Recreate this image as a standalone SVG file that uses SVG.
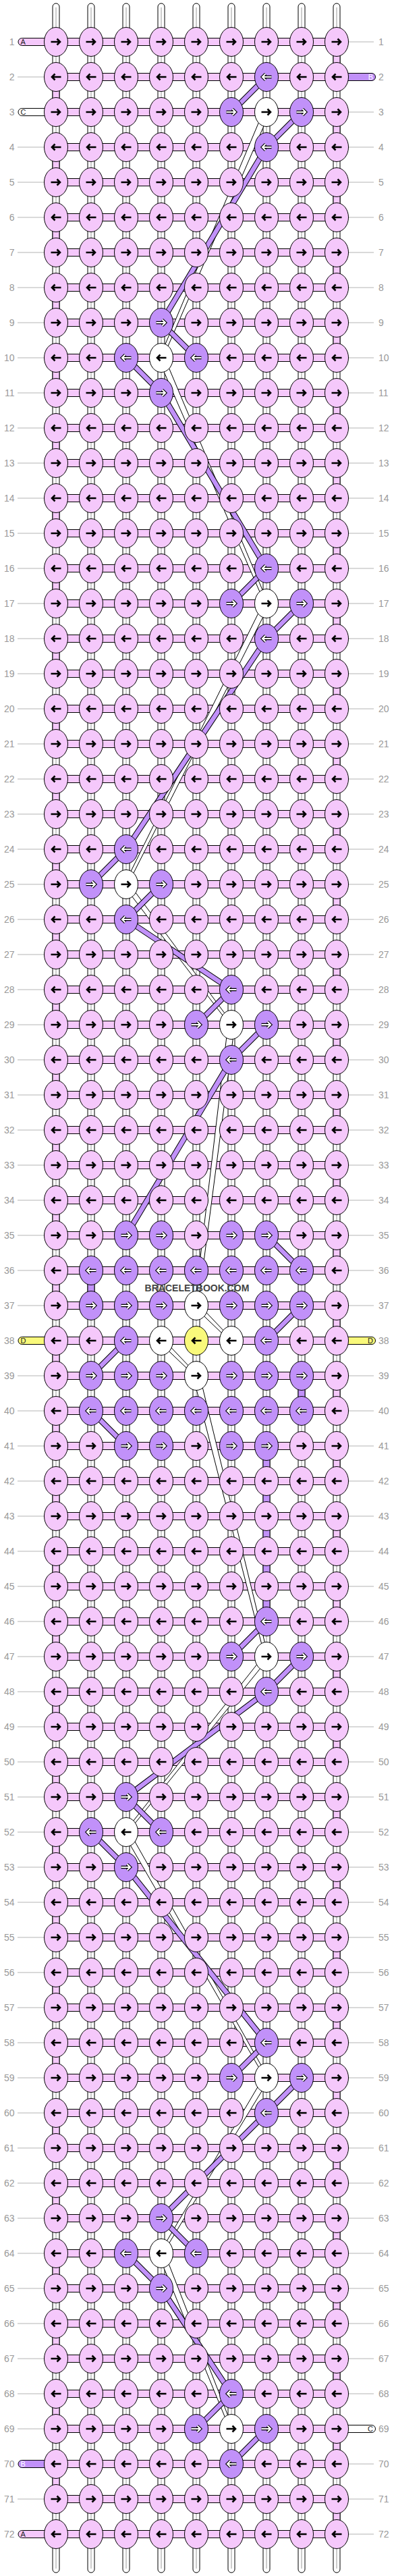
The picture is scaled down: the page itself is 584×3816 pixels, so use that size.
<svg xmlns="http://www.w3.org/2000/svg" xmlns:xlink="http://www.w3.org/1999/xlink" width="584" height="3816" viewBox="0 0 584 3816">
<style>
.s{fill:#fff;stroke:#000;stroke-width:1}
.c{stroke:#9a9a9a;stroke-width:1;fill:none}
.pk{fill:#F5C8FB;stroke:#000;stroke-width:1}
.pu{fill:#C191F9;stroke:#000;stroke-width:1}
.ye{fill:#F9F97B;stroke:#000;stroke-width:1}
.wh{fill:#fff;stroke:#000;stroke-width:1}
.gl{stroke:#b4b4b4;stroke-width:1;fill:none}
.n{font-family:"Liberation Sans",Arial,sans-serif;font-size:14px;fill:#999}
.sl{font-family:"Liberation Sans",Arial,sans-serif;font-size:11px;fill:#222}
.pb{fill:none;stroke:#000;stroke-width:8.5}
.pf{fill:none;stroke:#C191F9;stroke-width:6.5}
.wb{fill:#fff;stroke:#000;stroke-width:1}
.ab{stroke:#000;stroke-width:2.6;fill:none}
.ao{stroke:#000;stroke-width:4.4;fill:none}
.aw{stroke:#fff;stroke-width:2.2;fill:none}
.wm{font-family:"Liberation Sans",Arial,sans-serif;font-size:14px;font-weight:bold;fill:#444}
</style>
<defs>
<path id="ar" fill="none" d="M-7.5,0H5.5M1.5,-4.5L6,0L1.5,4.5"/>
<path id="al" fill="none" d="M7.5,0H-5.5M-1.5,-4.5L-6,0L-1.5,4.5"/>
<path id="pt" fill="none" d="M395,114L343,166M447,166L395,218M395,218L239,478M239,478L291,530M187,530L239,582M239,582L395,842M395,842L343,894M447,894L395,946M395,946L187,1258M187,1258L135,1310M239,1310L187,1362M187,1362L343,1466M343,1466L291,1518M395,1518L343,1570M343,1570L187,1830M395,1830L447,1882M447,1934L395,1986M187,1986L135,2038M135,2090L187,2142M395,2402L343,2454M447,2454L395,2506M395,2506L187,2662M187,2662L239,2714M135,2714L187,2766M187,2766L395,3026M395,3026L343,3078M447,3078L395,3130M395,3130L239,3286M239,3286L291,3338M187,3338L239,3390M239,3390L343,3546M343,3546L291,3598M395,3598L343,3650"/>
<g id="PR"><ellipse class="pk" rx="17.5" ry="21.5"/><use href="#ar" class="ab"/></g>
<g id="PL"><ellipse class="pk" rx="17.5" ry="21.5"/><use href="#al" class="ab"/></g>
<g id="WR"><ellipse class="wh" rx="17.5" ry="21.5"/><use href="#ar" class="ab"/></g>
<g id="WL"><ellipse class="wh" rx="17.5" ry="21.5"/><use href="#al" class="ab"/></g>
<g id="YL"><ellipse class="ye" rx="17.5" ry="21.5"/><use href="#al" class="ab"/></g>
<g id="VR"><ellipse class="pu" rx="17.5" ry="21.5"/><use href="#ar" class="ao"/><use href="#ar" class="aw"/></g>
<g id="VL"><ellipse class="pu" rx="17.5" ry="21.5"/><use href="#al" class="ao"/><use href="#al" class="aw"/></g>
</defs>
<rect width="584" height="3816" fill="#fff"/>
<g id="connectors">
<g id="vertical-strings">
<rect class="s" x="78" y="5" width="10" height="3806" rx="5"/><rect class="s" x="130" y="5" width="10" height="3806" rx="5"/><rect class="s" x="182" y="5" width="10" height="3806" rx="5"/><rect class="s" x="234" y="5" width="10" height="3806" rx="5"/><rect class="s" x="286" y="5" width="10" height="3806" rx="5"/><rect class="s" x="338" y="5" width="10" height="3806" rx="5"/><rect class="s" x="390" y="5" width="10" height="3806" rx="5"/><rect class="s" x="442" y="5" width="10" height="3806" rx="5"/><rect class="s" x="494" y="5" width="10" height="3806" rx="5"/>
<path class="c" d="M83,11V3805M135,11V3805M187,11V3805M239,11V3805M291,11V3805M343,11V3805M395,11V3805M447,11V3805M499,11V3805"/>
</g>
<path id="edge-turns" class="pk" d="M494,62h10v52h-10zM494,166h10v52h-10zM494,270h10v52h-10zM494,374h10v52h-10zM494,478h10v52h-10zM494,582h10v52h-10zM494,686h10v52h-10zM494,790h10v52h-10zM494,894h10v52h-10zM494,998h10v52h-10zM494,1102h10v52h-10zM494,1206h10v52h-10zM494,1310h10v52h-10zM494,1414h10v52h-10zM494,1518h10v52h-10zM494,1622h10v52h-10zM494,1726h10v52h-10zM494,1830h10v52h-10zM494,1934h10v52h-10zM494,2038h10v52h-10zM494,2142h10v52h-10zM494,2246h10v52h-10zM494,2350h10v52h-10zM494,2454h10v52h-10zM494,2558h10v52h-10zM494,2662h10v52h-10zM494,2766h10v52h-10zM494,2870h10v52h-10zM494,2974h10v52h-10zM494,3078h10v52h-10zM494,3182h10v52h-10zM494,3286h10v52h-10zM494,3390h10v52h-10zM494,3494h10v52h-10zM494,3598h10v52h-10zM494,3702h10v52h-10zM78,114h10v52h-10zM78,218h10v52h-10zM78,322h10v52h-10zM78,426h10v52h-10zM78,530h10v52h-10zM78,634h10v52h-10zM78,738h10v52h-10zM78,842h10v52h-10zM78,946h10v52h-10zM78,1050h10v52h-10zM78,1154h10v52h-10zM78,1258h10v52h-10zM78,1362h10v52h-10zM78,1466h10v52h-10zM78,1570h10v52h-10zM78,1674h10v52h-10zM78,1778h10v52h-10zM78,1882h10v52h-10zM78,1986h10v52h-10zM78,2090h10v52h-10zM78,2194h10v52h-10zM78,2298h10v52h-10zM78,2402h10v52h-10zM78,2506h10v52h-10zM78,2610h10v52h-10zM78,2714h10v52h-10zM78,2818h10v52h-10zM78,2922h10v52h-10zM78,3026h10v52h-10zM78,3130h10v52h-10zM78,3234h10v52h-10zM78,3338h10v52h-10zM78,3442h10v52h-10zM78,3546h10v52h-10zM78,3650h10v52h-10z"/>
<path id="purple-drops" class="pu" d="M130,1882h10v52h-10zM442,2038h10v52h-10zM390,2142h10v260h-10z"/>
<path id="rows" class="pk" d="M83,56.5h416v11h-416zM83,108.5h416v11h-416zM83,160.5h416v11h-416zM83,212.5h416v11h-416zM83,264.5h416v11h-416zM83,316.5h416v11h-416zM83,368.5h416v11h-416zM83,420.5h416v11h-416zM83,472.5h416v11h-416zM83,524.5h416v11h-416zM83,576.5h416v11h-416zM83,628.5h416v11h-416zM83,680.5h416v11h-416zM83,732.5h416v11h-416zM83,784.5h416v11h-416zM83,836.5h416v11h-416zM83,888.5h416v11h-416zM83,940.5h416v11h-416zM83,992.5h416v11h-416zM83,1044.5h416v11h-416zM83,1096.5h416v11h-416zM83,1148.5h416v11h-416zM83,1200.5h416v11h-416zM83,1252.5h416v11h-416zM83,1304.5h416v11h-416zM83,1356.5h416v11h-416zM83,1408.5h416v11h-416zM83,1460.5h416v11h-416zM83,1512.5h416v11h-416zM83,1564.5h416v11h-416zM83,1616.5h416v11h-416zM83,1668.5h416v11h-416zM83,1720.5h416v11h-416zM83,1772.5h416v11h-416zM83,1824.5h416v11h-416zM83,1876.5h416v11h-416zM83,1928.5h416v11h-416zM83,1980.5h416v11h-416zM83,2032.5h416v11h-416zM83,2084.5h416v11h-416zM83,2136.5h416v11h-416zM83,2188.5h416v11h-416zM83,2240.5h416v11h-416zM83,2292.5h416v11h-416zM83,2344.5h416v11h-416zM83,2396.5h416v11h-416zM83,2448.5h416v11h-416zM83,2500.5h416v11h-416zM83,2552.5h416v11h-416zM83,2604.5h416v11h-416zM83,2656.5h416v11h-416zM83,2708.5h416v11h-416zM83,2760.5h416v11h-416zM83,2812.5h416v11h-416zM83,2864.5h416v11h-416zM83,2916.5h416v11h-416zM83,2968.5h416v11h-416zM83,3020.5h416v11h-416zM83,3072.5h416v11h-416zM83,3124.5h416v11h-416zM83,3176.5h416v11h-416zM83,3228.5h416v11h-416zM83,3280.5h416v11h-416zM83,3332.5h416v11h-416zM83,3384.5h416v11h-416zM83,3436.5h416v11h-416zM83,3488.5h416v11h-416zM83,3540.5h416v11h-416zM83,3592.5h416v11h-416zM83,3644.5h416v11h-416zM83,3696.5h416v11h-416zM83,3748.5h416v11h-416z"/>
<path id="label-lines" class="gl" d="M26,114H70M26,218H70M26,270H70M26,322H70M26,374H70M26,426H70M26,478H70M26,530H70M26,582H70M26,634H70M26,686H70M26,738H70M26,790H70M26,842H70M26,894H70M26,946H70M26,998H70M26,1050H70M26,1102H70M26,1154H70M26,1206H70M26,1258H70M26,1310H70M26,1362H70M26,1414H70M26,1466H70M26,1518H70M26,1570H70M26,1622H70M26,1674H70M26,1726H70M26,1778H70M26,1830H70M26,1882H70M26,1934H70M26,2038H70M26,2090H70M26,2142H70M26,2194H70M26,2246H70M26,2298H70M26,2350H70M26,2402H70M26,2454H70M26,2506H70M26,2558H70M26,2610H70M26,2662H70M26,2714H70M26,2766H70M26,2818H70M26,2870H70M26,2922H70M26,2974H70M26,3026H70M26,3078H70M26,3130H70M26,3182H70M26,3234H70M26,3286H70M26,3338H70M26,3390H70M26,3442H70M26,3494H70M26,3546H70M26,3598H70M26,3702H70M499,62H554M499,166H554M499,218H554M499,270H554M499,322H554M499,374H554M499,426H554M499,478H554M499,530H554M499,582H554M499,634H554M499,686H554M499,738H554M499,790H554M499,842H554M499,894H554M499,946H554M499,998H554M499,1050H554M499,1102H554M499,1154H554M499,1206H554M499,1258H554M499,1310H554M499,1362H554M499,1414H554M499,1466H554M499,1518H554M499,1570H554M499,1622H554M499,1674H554M499,1726H554M499,1778H554M499,1830H554M499,1882H554M499,1934H554M499,2038H554M499,2090H554M499,2142H554M499,2194H554M499,2246H554M499,2298H554M499,2350H554M499,2402H554M499,2454H554M499,2506H554M499,2558H554M499,2610H554M499,2662H554M499,2714H554M499,2766H554M499,2818H554M499,2870H554M499,2922H554M499,2974H554M499,3026H554M499,3078H554M499,3130H554M499,3182H554M499,3234H554M499,3286H554M499,3338H554M499,3390H554M499,3442H554M499,3494H554M499,3546H554M499,3650H554M499,3702H554M499,3754H554"/>
<g id="side-strands">
<rect class="pk" x="27" y="56.5" width="48" height="11" rx="5.5"/>
<rect class="wh" x="27" y="160.5" width="48" height="11" rx="5.5"/>
<rect class="ye" x="27" y="1980.5" width="48" height="11" rx="5.5"/>
<rect class="pu" x="27" y="3644.5" width="48" height="11" rx="5.5"/>
<rect class="pk" x="27" y="3748.5" width="48" height="11" rx="5.5"/>
<rect class="pu" x="492" y="108.5" width="64.5" height="11" rx="5.5"/>
<rect class="ye" x="492" y="1980.5" width="64.5" height="11" rx="5.5"/>
<rect class="wh" x="492" y="3592.5" width="64.5" height="11" rx="5.5"/>
<text class="sl" x="30.5" y="66">A</text>
<text class="sl" x="30.5" y="170">C</text>
<text class="sl" x="30.5" y="1990">D</text>
<text class="sl" x="30.5" y="3654" style="fill:#fff">B</text>
<text class="sl" x="30.5" y="3758">A</text>
<text class="sl" x="553" y="118" text-anchor="end" style="fill:#fff">B</text>
<text class="sl" x="553" y="1990" text-anchor="end">D</text>
<text class="sl" x="553" y="3602" text-anchor="end">C</text>
</g>
<g id="white-thread">
<polygon class="wb" points="390,166 400,166 241.5,530 236.5,530"/>
<polygon class="wb" points="234,530 244,530 397.5,894 392.5,894"/>
<polygon class="wb" points="390,894 400,894 189.5,1310 184.5,1310"/>
<polygon class="wb" points="182,1310 192,1310 345.5,1518 340.5,1518"/>
<polygon class="wb" points="338,1518 348,1518 293.5,1934 288.5,1934"/>
<polygon class="wb" points="286,1934 296,1934 345.5,1986 340.5,1986"/>
<polygon class="wb" points="234,1986 244,1986 293.5,2038 288.5,2038"/>
<polygon class="wb" points="286,2038 296,2038 397.5,2454 392.5,2454"/>
<polygon class="wb" points="390,2454 400,2454 189.5,2714 184.5,2714"/>
<polygon class="wb" points="182,2714 192,2714 397.5,3078 392.5,3078"/>
<polygon class="wb" points="390,3078 400,3078 241.5,3338 236.5,3338"/>
<polygon class="wb" points="234,3338 244,3338 345.5,3598 340.5,3598"/>
</g>
<g id="purple-thread">
<use href="#pt" class="pb"/>
<use href="#pt" class="pf"/>
</g>
</g>
<g id="knots">
<g id="k1-1"><use href="#PR" x="83" y="62"/></g><g id="k1-2"><use href="#PR" x="135" y="62"/></g><g id="k1-3"><use href="#PR" x="187" y="62"/></g><g id="k1-4"><use href="#PR" x="239" y="62"/></g><g id="k1-5"><use href="#PR" x="291" y="62"/></g><g id="k1-6"><use href="#PR" x="343" y="62"/></g><g id="k1-7"><use href="#PR" x="395" y="62"/></g><g id="k1-8"><use href="#PR" x="447" y="62"/></g><g id="k1-9"><use href="#PR" x="499" y="62"/></g>
<g id="k2-1"><use href="#PL" x="83" y="114"/></g><g id="k2-2"><use href="#PL" x="135" y="114"/></g><g id="k2-3"><use href="#PL" x="187" y="114"/></g><g id="k2-4"><use href="#PL" x="239" y="114"/></g><g id="k2-5"><use href="#PL" x="291" y="114"/></g><g id="k2-6"><use href="#PL" x="343" y="114"/></g><g id="k2-7"><use href="#VL" x="395" y="114"/></g><g id="k2-8"><use href="#PL" x="447" y="114"/></g><g id="k2-9"><use href="#PL" x="499" y="114"/></g>
<g id="k3-1"><use href="#PR" x="83" y="166"/></g><g id="k3-2"><use href="#PR" x="135" y="166"/></g><g id="k3-3"><use href="#PR" x="187" y="166"/></g><g id="k3-4"><use href="#PR" x="239" y="166"/></g><g id="k3-5"><use href="#PR" x="291" y="166"/></g><g id="k3-6"><use href="#VR" x="343" y="166"/></g><g id="k3-7"><use href="#WR" x="395" y="166"/></g><g id="k3-8"><use href="#VR" x="447" y="166"/></g><g id="k3-9"><use href="#PR" x="499" y="166"/></g>
<g id="k4-1"><use href="#PL" x="83" y="218"/></g><g id="k4-2"><use href="#PL" x="135" y="218"/></g><g id="k4-3"><use href="#PL" x="187" y="218"/></g><g id="k4-4"><use href="#PL" x="239" y="218"/></g><g id="k4-5"><use href="#PL" x="291" y="218"/></g><g id="k4-6"><use href="#PL" x="343" y="218"/></g><g id="k4-7"><use href="#VL" x="395" y="218"/></g><g id="k4-8"><use href="#PL" x="447" y="218"/></g><g id="k4-9"><use href="#PL" x="499" y="218"/></g>
<g id="k5-1"><use href="#PR" x="83" y="270"/></g><g id="k5-2"><use href="#PR" x="135" y="270"/></g><g id="k5-3"><use href="#PR" x="187" y="270"/></g><g id="k5-4"><use href="#PR" x="239" y="270"/></g><g id="k5-5"><use href="#PR" x="291" y="270"/></g><g id="k5-6"><use href="#PR" x="343" y="270"/></g><g id="k5-7"><use href="#PR" x="395" y="270"/></g><g id="k5-8"><use href="#PR" x="447" y="270"/></g><g id="k5-9"><use href="#PR" x="499" y="270"/></g>
<g id="k6-1"><use href="#PL" x="83" y="322"/></g><g id="k6-2"><use href="#PL" x="135" y="322"/></g><g id="k6-3"><use href="#PL" x="187" y="322"/></g><g id="k6-4"><use href="#PL" x="239" y="322"/></g><g id="k6-5"><use href="#PL" x="291" y="322"/></g><g id="k6-6"><use href="#PL" x="343" y="322"/></g><g id="k6-7"><use href="#PL" x="395" y="322"/></g><g id="k6-8"><use href="#PL" x="447" y="322"/></g><g id="k6-9"><use href="#PL" x="499" y="322"/></g>
<g id="k7-1"><use href="#PR" x="83" y="374"/></g><g id="k7-2"><use href="#PR" x="135" y="374"/></g><g id="k7-3"><use href="#PR" x="187" y="374"/></g><g id="k7-4"><use href="#PR" x="239" y="374"/></g><g id="k7-5"><use href="#PR" x="291" y="374"/></g><g id="k7-6"><use href="#PR" x="343" y="374"/></g><g id="k7-7"><use href="#PR" x="395" y="374"/></g><g id="k7-8"><use href="#PR" x="447" y="374"/></g><g id="k7-9"><use href="#PR" x="499" y="374"/></g>
<g id="k8-1"><use href="#PL" x="83" y="426"/></g><g id="k8-2"><use href="#PL" x="135" y="426"/></g><g id="k8-3"><use href="#PL" x="187" y="426"/></g><g id="k8-4"><use href="#PL" x="239" y="426"/></g><g id="k8-5"><use href="#PL" x="291" y="426"/></g><g id="k8-6"><use href="#PL" x="343" y="426"/></g><g id="k8-7"><use href="#PL" x="395" y="426"/></g><g id="k8-8"><use href="#PL" x="447" y="426"/></g><g id="k8-9"><use href="#PL" x="499" y="426"/></g>
<g id="k9-1"><use href="#PR" x="83" y="478"/></g><g id="k9-2"><use href="#PR" x="135" y="478"/></g><g id="k9-3"><use href="#PR" x="187" y="478"/></g><g id="k9-4"><use href="#VR" x="239" y="478"/></g><g id="k9-5"><use href="#PR" x="291" y="478"/></g><g id="k9-6"><use href="#PR" x="343" y="478"/></g><g id="k9-7"><use href="#PR" x="395" y="478"/></g><g id="k9-8"><use href="#PR" x="447" y="478"/></g><g id="k9-9"><use href="#PR" x="499" y="478"/></g>
<g id="k10-1"><use href="#PL" x="83" y="530"/></g><g id="k10-2"><use href="#PL" x="135" y="530"/></g><g id="k10-3"><use href="#VL" x="187" y="530"/></g><g id="k10-4"><use href="#WL" x="239" y="530"/></g><g id="k10-5"><use href="#VL" x="291" y="530"/></g><g id="k10-6"><use href="#PL" x="343" y="530"/></g><g id="k10-7"><use href="#PL" x="395" y="530"/></g><g id="k10-8"><use href="#PL" x="447" y="530"/></g><g id="k10-9"><use href="#PL" x="499" y="530"/></g>
<g id="k11-1"><use href="#PR" x="83" y="582"/></g><g id="k11-2"><use href="#PR" x="135" y="582"/></g><g id="k11-3"><use href="#PR" x="187" y="582"/></g><g id="k11-4"><use href="#VR" x="239" y="582"/></g><g id="k11-5"><use href="#PR" x="291" y="582"/></g><g id="k11-6"><use href="#PR" x="343" y="582"/></g><g id="k11-7"><use href="#PR" x="395" y="582"/></g><g id="k11-8"><use href="#PR" x="447" y="582"/></g><g id="k11-9"><use href="#PR" x="499" y="582"/></g>
<g id="k12-1"><use href="#PL" x="83" y="634"/></g><g id="k12-2"><use href="#PL" x="135" y="634"/></g><g id="k12-3"><use href="#PL" x="187" y="634"/></g><g id="k12-4"><use href="#PL" x="239" y="634"/></g><g id="k12-5"><use href="#PL" x="291" y="634"/></g><g id="k12-6"><use href="#PL" x="343" y="634"/></g><g id="k12-7"><use href="#PL" x="395" y="634"/></g><g id="k12-8"><use href="#PL" x="447" y="634"/></g><g id="k12-9"><use href="#PL" x="499" y="634"/></g>
<g id="k13-1"><use href="#PR" x="83" y="686"/></g><g id="k13-2"><use href="#PR" x="135" y="686"/></g><g id="k13-3"><use href="#PR" x="187" y="686"/></g><g id="k13-4"><use href="#PR" x="239" y="686"/></g><g id="k13-5"><use href="#PR" x="291" y="686"/></g><g id="k13-6"><use href="#PR" x="343" y="686"/></g><g id="k13-7"><use href="#PR" x="395" y="686"/></g><g id="k13-8"><use href="#PR" x="447" y="686"/></g><g id="k13-9"><use href="#PR" x="499" y="686"/></g>
<g id="k14-1"><use href="#PL" x="83" y="738"/></g><g id="k14-2"><use href="#PL" x="135" y="738"/></g><g id="k14-3"><use href="#PL" x="187" y="738"/></g><g id="k14-4"><use href="#PL" x="239" y="738"/></g><g id="k14-5"><use href="#PL" x="291" y="738"/></g><g id="k14-6"><use href="#PL" x="343" y="738"/></g><g id="k14-7"><use href="#PL" x="395" y="738"/></g><g id="k14-8"><use href="#PL" x="447" y="738"/></g><g id="k14-9"><use href="#PL" x="499" y="738"/></g>
<g id="k15-1"><use href="#PR" x="83" y="790"/></g><g id="k15-2"><use href="#PR" x="135" y="790"/></g><g id="k15-3"><use href="#PR" x="187" y="790"/></g><g id="k15-4"><use href="#PR" x="239" y="790"/></g><g id="k15-5"><use href="#PR" x="291" y="790"/></g><g id="k15-6"><use href="#PR" x="343" y="790"/></g><g id="k15-7"><use href="#PR" x="395" y="790"/></g><g id="k15-8"><use href="#PR" x="447" y="790"/></g><g id="k15-9"><use href="#PR" x="499" y="790"/></g>
<g id="k16-1"><use href="#PL" x="83" y="842"/></g><g id="k16-2"><use href="#PL" x="135" y="842"/></g><g id="k16-3"><use href="#PL" x="187" y="842"/></g><g id="k16-4"><use href="#PL" x="239" y="842"/></g><g id="k16-5"><use href="#PL" x="291" y="842"/></g><g id="k16-6"><use href="#PL" x="343" y="842"/></g><g id="k16-7"><use href="#VL" x="395" y="842"/></g><g id="k16-8"><use href="#PL" x="447" y="842"/></g><g id="k16-9"><use href="#PL" x="499" y="842"/></g>
<g id="k17-1"><use href="#PR" x="83" y="894"/></g><g id="k17-2"><use href="#PR" x="135" y="894"/></g><g id="k17-3"><use href="#PR" x="187" y="894"/></g><g id="k17-4"><use href="#PR" x="239" y="894"/></g><g id="k17-5"><use href="#PR" x="291" y="894"/></g><g id="k17-6"><use href="#VR" x="343" y="894"/></g><g id="k17-7"><use href="#WR" x="395" y="894"/></g><g id="k17-8"><use href="#VR" x="447" y="894"/></g><g id="k17-9"><use href="#PR" x="499" y="894"/></g>
<g id="k18-1"><use href="#PL" x="83" y="946"/></g><g id="k18-2"><use href="#PL" x="135" y="946"/></g><g id="k18-3"><use href="#PL" x="187" y="946"/></g><g id="k18-4"><use href="#PL" x="239" y="946"/></g><g id="k18-5"><use href="#PL" x="291" y="946"/></g><g id="k18-6"><use href="#PL" x="343" y="946"/></g><g id="k18-7"><use href="#VL" x="395" y="946"/></g><g id="k18-8"><use href="#PL" x="447" y="946"/></g><g id="k18-9"><use href="#PL" x="499" y="946"/></g>
<g id="k19-1"><use href="#PR" x="83" y="998"/></g><g id="k19-2"><use href="#PR" x="135" y="998"/></g><g id="k19-3"><use href="#PR" x="187" y="998"/></g><g id="k19-4"><use href="#PR" x="239" y="998"/></g><g id="k19-5"><use href="#PR" x="291" y="998"/></g><g id="k19-6"><use href="#PR" x="343" y="998"/></g><g id="k19-7"><use href="#PR" x="395" y="998"/></g><g id="k19-8"><use href="#PR" x="447" y="998"/></g><g id="k19-9"><use href="#PR" x="499" y="998"/></g>
<g id="k20-1"><use href="#PL" x="83" y="1050"/></g><g id="k20-2"><use href="#PL" x="135" y="1050"/></g><g id="k20-3"><use href="#PL" x="187" y="1050"/></g><g id="k20-4"><use href="#PL" x="239" y="1050"/></g><g id="k20-5"><use href="#PL" x="291" y="1050"/></g><g id="k20-6"><use href="#PL" x="343" y="1050"/></g><g id="k20-7"><use href="#PL" x="395" y="1050"/></g><g id="k20-8"><use href="#PL" x="447" y="1050"/></g><g id="k20-9"><use href="#PL" x="499" y="1050"/></g>
<g id="k21-1"><use href="#PR" x="83" y="1102"/></g><g id="k21-2"><use href="#PR" x="135" y="1102"/></g><g id="k21-3"><use href="#PR" x="187" y="1102"/></g><g id="k21-4"><use href="#PR" x="239" y="1102"/></g><g id="k21-5"><use href="#PR" x="291" y="1102"/></g><g id="k21-6"><use href="#PR" x="343" y="1102"/></g><g id="k21-7"><use href="#PR" x="395" y="1102"/></g><g id="k21-8"><use href="#PR" x="447" y="1102"/></g><g id="k21-9"><use href="#PR" x="499" y="1102"/></g>
<g id="k22-1"><use href="#PL" x="83" y="1154"/></g><g id="k22-2"><use href="#PL" x="135" y="1154"/></g><g id="k22-3"><use href="#PL" x="187" y="1154"/></g><g id="k22-4"><use href="#PL" x="239" y="1154"/></g><g id="k22-5"><use href="#PL" x="291" y="1154"/></g><g id="k22-6"><use href="#PL" x="343" y="1154"/></g><g id="k22-7"><use href="#PL" x="395" y="1154"/></g><g id="k22-8"><use href="#PL" x="447" y="1154"/></g><g id="k22-9"><use href="#PL" x="499" y="1154"/></g>
<g id="k23-1"><use href="#PR" x="83" y="1206"/></g><g id="k23-2"><use href="#PR" x="135" y="1206"/></g><g id="k23-3"><use href="#PR" x="187" y="1206"/></g><g id="k23-4"><use href="#PR" x="239" y="1206"/></g><g id="k23-5"><use href="#PR" x="291" y="1206"/></g><g id="k23-6"><use href="#PR" x="343" y="1206"/></g><g id="k23-7"><use href="#PR" x="395" y="1206"/></g><g id="k23-8"><use href="#PR" x="447" y="1206"/></g><g id="k23-9"><use href="#PR" x="499" y="1206"/></g>
<g id="k24-1"><use href="#PL" x="83" y="1258"/></g><g id="k24-2"><use href="#PL" x="135" y="1258"/></g><g id="k24-3"><use href="#VL" x="187" y="1258"/></g><g id="k24-4"><use href="#PL" x="239" y="1258"/></g><g id="k24-5"><use href="#PL" x="291" y="1258"/></g><g id="k24-6"><use href="#PL" x="343" y="1258"/></g><g id="k24-7"><use href="#PL" x="395" y="1258"/></g><g id="k24-8"><use href="#PL" x="447" y="1258"/></g><g id="k24-9"><use href="#PL" x="499" y="1258"/></g>
<g id="k25-1"><use href="#PR" x="83" y="1310"/></g><g id="k25-2"><use href="#VR" x="135" y="1310"/></g><g id="k25-3"><use href="#WR" x="187" y="1310"/></g><g id="k25-4"><use href="#VR" x="239" y="1310"/></g><g id="k25-5"><use href="#PR" x="291" y="1310"/></g><g id="k25-6"><use href="#PR" x="343" y="1310"/></g><g id="k25-7"><use href="#PR" x="395" y="1310"/></g><g id="k25-8"><use href="#PR" x="447" y="1310"/></g><g id="k25-9"><use href="#PR" x="499" y="1310"/></g>
<g id="k26-1"><use href="#PL" x="83" y="1362"/></g><g id="k26-2"><use href="#PL" x="135" y="1362"/></g><g id="k26-3"><use href="#VL" x="187" y="1362"/></g><g id="k26-4"><use href="#PL" x="239" y="1362"/></g><g id="k26-5"><use href="#PL" x="291" y="1362"/></g><g id="k26-6"><use href="#PL" x="343" y="1362"/></g><g id="k26-7"><use href="#PL" x="395" y="1362"/></g><g id="k26-8"><use href="#PL" x="447" y="1362"/></g><g id="k26-9"><use href="#PL" x="499" y="1362"/></g>
<g id="k27-1"><use href="#PR" x="83" y="1414"/></g><g id="k27-2"><use href="#PR" x="135" y="1414"/></g><g id="k27-3"><use href="#PR" x="187" y="1414"/></g><g id="k27-4"><use href="#PR" x="239" y="1414"/></g><g id="k27-5"><use href="#PR" x="291" y="1414"/></g><g id="k27-6"><use href="#PR" x="343" y="1414"/></g><g id="k27-7"><use href="#PR" x="395" y="1414"/></g><g id="k27-8"><use href="#PR" x="447" y="1414"/></g><g id="k27-9"><use href="#PR" x="499" y="1414"/></g>
<g id="k28-1"><use href="#PL" x="83" y="1466"/></g><g id="k28-2"><use href="#PL" x="135" y="1466"/></g><g id="k28-3"><use href="#PL" x="187" y="1466"/></g><g id="k28-4"><use href="#PL" x="239" y="1466"/></g><g id="k28-5"><use href="#PL" x="291" y="1466"/></g><g id="k28-6"><use href="#VL" x="343" y="1466"/></g><g id="k28-7"><use href="#PL" x="395" y="1466"/></g><g id="k28-8"><use href="#PL" x="447" y="1466"/></g><g id="k28-9"><use href="#PL" x="499" y="1466"/></g>
<g id="k29-1"><use href="#PR" x="83" y="1518"/></g><g id="k29-2"><use href="#PR" x="135" y="1518"/></g><g id="k29-3"><use href="#PR" x="187" y="1518"/></g><g id="k29-4"><use href="#PR" x="239" y="1518"/></g><g id="k29-5"><use href="#VR" x="291" y="1518"/></g><g id="k29-6"><use href="#WR" x="343" y="1518"/></g><g id="k29-7"><use href="#VR" x="395" y="1518"/></g><g id="k29-8"><use href="#PR" x="447" y="1518"/></g><g id="k29-9"><use href="#PR" x="499" y="1518"/></g>
<g id="k30-1"><use href="#PL" x="83" y="1570"/></g><g id="k30-2"><use href="#PL" x="135" y="1570"/></g><g id="k30-3"><use href="#PL" x="187" y="1570"/></g><g id="k30-4"><use href="#PL" x="239" y="1570"/></g><g id="k30-5"><use href="#PL" x="291" y="1570"/></g><g id="k30-6"><use href="#VL" x="343" y="1570"/></g><g id="k30-7"><use href="#PL" x="395" y="1570"/></g><g id="k30-8"><use href="#PL" x="447" y="1570"/></g><g id="k30-9"><use href="#PL" x="499" y="1570"/></g>
<g id="k31-1"><use href="#PR" x="83" y="1622"/></g><g id="k31-2"><use href="#PR" x="135" y="1622"/></g><g id="k31-3"><use href="#PR" x="187" y="1622"/></g><g id="k31-4"><use href="#PR" x="239" y="1622"/></g><g id="k31-5"><use href="#PR" x="291" y="1622"/></g><g id="k31-6"><use href="#PR" x="343" y="1622"/></g><g id="k31-7"><use href="#PR" x="395" y="1622"/></g><g id="k31-8"><use href="#PR" x="447" y="1622"/></g><g id="k31-9"><use href="#PR" x="499" y="1622"/></g>
<g id="k32-1"><use href="#PL" x="83" y="1674"/></g><g id="k32-2"><use href="#PL" x="135" y="1674"/></g><g id="k32-3"><use href="#PL" x="187" y="1674"/></g><g id="k32-4"><use href="#PL" x="239" y="1674"/></g><g id="k32-5"><use href="#PL" x="291" y="1674"/></g><g id="k32-6"><use href="#PL" x="343" y="1674"/></g><g id="k32-7"><use href="#PL" x="395" y="1674"/></g><g id="k32-8"><use href="#PL" x="447" y="1674"/></g><g id="k32-9"><use href="#PL" x="499" y="1674"/></g>
<g id="k33-1"><use href="#PR" x="83" y="1726"/></g><g id="k33-2"><use href="#PR" x="135" y="1726"/></g><g id="k33-3"><use href="#PR" x="187" y="1726"/></g><g id="k33-4"><use href="#PR" x="239" y="1726"/></g><g id="k33-5"><use href="#PR" x="291" y="1726"/></g><g id="k33-6"><use href="#PR" x="343" y="1726"/></g><g id="k33-7"><use href="#PR" x="395" y="1726"/></g><g id="k33-8"><use href="#PR" x="447" y="1726"/></g><g id="k33-9"><use href="#PR" x="499" y="1726"/></g>
<g id="k34-1"><use href="#PL" x="83" y="1778"/></g><g id="k34-2"><use href="#PL" x="135" y="1778"/></g><g id="k34-3"><use href="#PL" x="187" y="1778"/></g><g id="k34-4"><use href="#PL" x="239" y="1778"/></g><g id="k34-5"><use href="#PL" x="291" y="1778"/></g><g id="k34-6"><use href="#PL" x="343" y="1778"/></g><g id="k34-7"><use href="#PL" x="395" y="1778"/></g><g id="k34-8"><use href="#PL" x="447" y="1778"/></g><g id="k34-9"><use href="#PL" x="499" y="1778"/></g>
<g id="k35-1"><use href="#PR" x="83" y="1830"/></g><g id="k35-2"><use href="#PR" x="135" y="1830"/></g><g id="k35-3"><use href="#VR" x="187" y="1830"/></g><g id="k35-4"><use href="#VR" x="239" y="1830"/></g><g id="k35-5"><use href="#PR" x="291" y="1830"/></g><g id="k35-6"><use href="#VR" x="343" y="1830"/></g><g id="k35-7"><use href="#VR" x="395" y="1830"/></g><g id="k35-8"><use href="#PR" x="447" y="1830"/></g><g id="k35-9"><use href="#PR" x="499" y="1830"/></g>
<g id="k36-1"><use href="#PL" x="83" y="1882"/></g><g id="k36-2"><use href="#VL" x="135" y="1882"/></g><g id="k36-3"><use href="#VL" x="187" y="1882"/></g><g id="k36-4"><use href="#VL" x="239" y="1882"/></g><g id="k36-5"><use href="#VL" x="291" y="1882"/></g><g id="k36-6"><use href="#VL" x="343" y="1882"/></g><g id="k36-7"><use href="#VL" x="395" y="1882"/></g><g id="k36-8"><use href="#VL" x="447" y="1882"/></g><g id="k36-9"><use href="#PL" x="499" y="1882"/></g>
<g id="k37-1"><use href="#PR" x="83" y="1934"/></g><g id="k37-2"><use href="#VR" x="135" y="1934"/></g><g id="k37-3"><use href="#VR" x="187" y="1934"/></g><g id="k37-4"><use href="#VR" x="239" y="1934"/></g><g id="k37-5"><use href="#WR" x="291" y="1934"/></g><g id="k37-6"><use href="#VR" x="343" y="1934"/></g><g id="k37-7"><use href="#VR" x="395" y="1934"/></g><g id="k37-8"><use href="#VR" x="447" y="1934"/></g><g id="k37-9"><use href="#PR" x="499" y="1934"/></g>
<g id="k38-1"><use href="#PL" x="83" y="1986"/></g><g id="k38-2"><use href="#PL" x="135" y="1986"/></g><g id="k38-3"><use href="#VL" x="187" y="1986"/></g><g id="k38-4"><use href="#WL" x="239" y="1986"/></g><g id="k38-5"><use href="#YL" x="291" y="1986"/></g><g id="k38-6"><use href="#WL" x="343" y="1986"/></g><g id="k38-7"><use href="#VL" x="395" y="1986"/></g><g id="k38-8"><use href="#PL" x="447" y="1986"/></g><g id="k38-9"><use href="#PL" x="499" y="1986"/></g>
<g id="k39-1"><use href="#PR" x="83" y="2038"/></g><g id="k39-2"><use href="#VR" x="135" y="2038"/></g><g id="k39-3"><use href="#VR" x="187" y="2038"/></g><g id="k39-4"><use href="#VR" x="239" y="2038"/></g><g id="k39-5"><use href="#WR" x="291" y="2038"/></g><g id="k39-6"><use href="#VR" x="343" y="2038"/></g><g id="k39-7"><use href="#VR" x="395" y="2038"/></g><g id="k39-8"><use href="#VR" x="447" y="2038"/></g><g id="k39-9"><use href="#PR" x="499" y="2038"/></g>
<g id="k40-1"><use href="#PL" x="83" y="2090"/></g><g id="k40-2"><use href="#VL" x="135" y="2090"/></g><g id="k40-3"><use href="#VL" x="187" y="2090"/></g><g id="k40-4"><use href="#VL" x="239" y="2090"/></g><g id="k40-5"><use href="#VL" x="291" y="2090"/></g><g id="k40-6"><use href="#VL" x="343" y="2090"/></g><g id="k40-7"><use href="#VL" x="395" y="2090"/></g><g id="k40-8"><use href="#VL" x="447" y="2090"/></g><g id="k40-9"><use href="#PL" x="499" y="2090"/></g>
<g id="k41-1"><use href="#PR" x="83" y="2142"/></g><g id="k41-2"><use href="#PR" x="135" y="2142"/></g><g id="k41-3"><use href="#VR" x="187" y="2142"/></g><g id="k41-4"><use href="#VR" x="239" y="2142"/></g><g id="k41-5"><use href="#PR" x="291" y="2142"/></g><g id="k41-6"><use href="#VR" x="343" y="2142"/></g><g id="k41-7"><use href="#VR" x="395" y="2142"/></g><g id="k41-8"><use href="#PR" x="447" y="2142"/></g><g id="k41-9"><use href="#PR" x="499" y="2142"/></g>
<g id="k42-1"><use href="#PL" x="83" y="2194"/></g><g id="k42-2"><use href="#PL" x="135" y="2194"/></g><g id="k42-3"><use href="#PL" x="187" y="2194"/></g><g id="k42-4"><use href="#PL" x="239" y="2194"/></g><g id="k42-5"><use href="#PL" x="291" y="2194"/></g><g id="k42-6"><use href="#PL" x="343" y="2194"/></g><g id="k42-7"><use href="#PL" x="395" y="2194"/></g><g id="k42-8"><use href="#PL" x="447" y="2194"/></g><g id="k42-9"><use href="#PL" x="499" y="2194"/></g>
<g id="k43-1"><use href="#PR" x="83" y="2246"/></g><g id="k43-2"><use href="#PR" x="135" y="2246"/></g><g id="k43-3"><use href="#PR" x="187" y="2246"/></g><g id="k43-4"><use href="#PR" x="239" y="2246"/></g><g id="k43-5"><use href="#PR" x="291" y="2246"/></g><g id="k43-6"><use href="#PR" x="343" y="2246"/></g><g id="k43-7"><use href="#PR" x="395" y="2246"/></g><g id="k43-8"><use href="#PR" x="447" y="2246"/></g><g id="k43-9"><use href="#PR" x="499" y="2246"/></g>
<g id="k44-1"><use href="#PL" x="83" y="2298"/></g><g id="k44-2"><use href="#PL" x="135" y="2298"/></g><g id="k44-3"><use href="#PL" x="187" y="2298"/></g><g id="k44-4"><use href="#PL" x="239" y="2298"/></g><g id="k44-5"><use href="#PL" x="291" y="2298"/></g><g id="k44-6"><use href="#PL" x="343" y="2298"/></g><g id="k44-7"><use href="#PL" x="395" y="2298"/></g><g id="k44-8"><use href="#PL" x="447" y="2298"/></g><g id="k44-9"><use href="#PL" x="499" y="2298"/></g>
<g id="k45-1"><use href="#PR" x="83" y="2350"/></g><g id="k45-2"><use href="#PR" x="135" y="2350"/></g><g id="k45-3"><use href="#PR" x="187" y="2350"/></g><g id="k45-4"><use href="#PR" x="239" y="2350"/></g><g id="k45-5"><use href="#PR" x="291" y="2350"/></g><g id="k45-6"><use href="#PR" x="343" y="2350"/></g><g id="k45-7"><use href="#PR" x="395" y="2350"/></g><g id="k45-8"><use href="#PR" x="447" y="2350"/></g><g id="k45-9"><use href="#PR" x="499" y="2350"/></g>
<g id="k46-1"><use href="#PL" x="83" y="2402"/></g><g id="k46-2"><use href="#PL" x="135" y="2402"/></g><g id="k46-3"><use href="#PL" x="187" y="2402"/></g><g id="k46-4"><use href="#PL" x="239" y="2402"/></g><g id="k46-5"><use href="#PL" x="291" y="2402"/></g><g id="k46-6"><use href="#PL" x="343" y="2402"/></g><g id="k46-7"><use href="#VL" x="395" y="2402"/></g><g id="k46-8"><use href="#PL" x="447" y="2402"/></g><g id="k46-9"><use href="#PL" x="499" y="2402"/></g>
<g id="k47-1"><use href="#PR" x="83" y="2454"/></g><g id="k47-2"><use href="#PR" x="135" y="2454"/></g><g id="k47-3"><use href="#PR" x="187" y="2454"/></g><g id="k47-4"><use href="#PR" x="239" y="2454"/></g><g id="k47-5"><use href="#PR" x="291" y="2454"/></g><g id="k47-6"><use href="#VR" x="343" y="2454"/></g><g id="k47-7"><use href="#WR" x="395" y="2454"/></g><g id="k47-8"><use href="#VR" x="447" y="2454"/></g><g id="k47-9"><use href="#PR" x="499" y="2454"/></g>
<g id="k48-1"><use href="#PL" x="83" y="2506"/></g><g id="k48-2"><use href="#PL" x="135" y="2506"/></g><g id="k48-3"><use href="#PL" x="187" y="2506"/></g><g id="k48-4"><use href="#PL" x="239" y="2506"/></g><g id="k48-5"><use href="#PL" x="291" y="2506"/></g><g id="k48-6"><use href="#PL" x="343" y="2506"/></g><g id="k48-7"><use href="#VL" x="395" y="2506"/></g><g id="k48-8"><use href="#PL" x="447" y="2506"/></g><g id="k48-9"><use href="#PL" x="499" y="2506"/></g>
<g id="k49-1"><use href="#PR" x="83" y="2558"/></g><g id="k49-2"><use href="#PR" x="135" y="2558"/></g><g id="k49-3"><use href="#PR" x="187" y="2558"/></g><g id="k49-4"><use href="#PR" x="239" y="2558"/></g><g id="k49-5"><use href="#PR" x="291" y="2558"/></g><g id="k49-6"><use href="#PR" x="343" y="2558"/></g><g id="k49-7"><use href="#PR" x="395" y="2558"/></g><g id="k49-8"><use href="#PR" x="447" y="2558"/></g><g id="k49-9"><use href="#PR" x="499" y="2558"/></g>
<g id="k50-1"><use href="#PL" x="83" y="2610"/></g><g id="k50-2"><use href="#PL" x="135" y="2610"/></g><g id="k50-3"><use href="#PL" x="187" y="2610"/></g><g id="k50-4"><use href="#PL" x="239" y="2610"/></g><g id="k50-5"><use href="#PL" x="291" y="2610"/></g><g id="k50-6"><use href="#PL" x="343" y="2610"/></g><g id="k50-7"><use href="#PL" x="395" y="2610"/></g><g id="k50-8"><use href="#PL" x="447" y="2610"/></g><g id="k50-9"><use href="#PL" x="499" y="2610"/></g>
<g id="k51-1"><use href="#PR" x="83" y="2662"/></g><g id="k51-2"><use href="#PR" x="135" y="2662"/></g><g id="k51-3"><use href="#VR" x="187" y="2662"/></g><g id="k51-4"><use href="#PR" x="239" y="2662"/></g><g id="k51-5"><use href="#PR" x="291" y="2662"/></g><g id="k51-6"><use href="#PR" x="343" y="2662"/></g><g id="k51-7"><use href="#PR" x="395" y="2662"/></g><g id="k51-8"><use href="#PR" x="447" y="2662"/></g><g id="k51-9"><use href="#PR" x="499" y="2662"/></g>
<g id="k52-1"><use href="#PL" x="83" y="2714"/></g><g id="k52-2"><use href="#VL" x="135" y="2714"/></g><g id="k52-3"><use href="#WL" x="187" y="2714"/></g><g id="k52-4"><use href="#VL" x="239" y="2714"/></g><g id="k52-5"><use href="#PL" x="291" y="2714"/></g><g id="k52-6"><use href="#PL" x="343" y="2714"/></g><g id="k52-7"><use href="#PL" x="395" y="2714"/></g><g id="k52-8"><use href="#PL" x="447" y="2714"/></g><g id="k52-9"><use href="#PL" x="499" y="2714"/></g>
<g id="k53-1"><use href="#PR" x="83" y="2766"/></g><g id="k53-2"><use href="#PR" x="135" y="2766"/></g><g id="k53-3"><use href="#VR" x="187" y="2766"/></g><g id="k53-4"><use href="#PR" x="239" y="2766"/></g><g id="k53-5"><use href="#PR" x="291" y="2766"/></g><g id="k53-6"><use href="#PR" x="343" y="2766"/></g><g id="k53-7"><use href="#PR" x="395" y="2766"/></g><g id="k53-8"><use href="#PR" x="447" y="2766"/></g><g id="k53-9"><use href="#PR" x="499" y="2766"/></g>
<g id="k54-1"><use href="#PL" x="83" y="2818"/></g><g id="k54-2"><use href="#PL" x="135" y="2818"/></g><g id="k54-3"><use href="#PL" x="187" y="2818"/></g><g id="k54-4"><use href="#PL" x="239" y="2818"/></g><g id="k54-5"><use href="#PL" x="291" y="2818"/></g><g id="k54-6"><use href="#PL" x="343" y="2818"/></g><g id="k54-7"><use href="#PL" x="395" y="2818"/></g><g id="k54-8"><use href="#PL" x="447" y="2818"/></g><g id="k54-9"><use href="#PL" x="499" y="2818"/></g>
<g id="k55-1"><use href="#PR" x="83" y="2870"/></g><g id="k55-2"><use href="#PR" x="135" y="2870"/></g><g id="k55-3"><use href="#PR" x="187" y="2870"/></g><g id="k55-4"><use href="#PR" x="239" y="2870"/></g><g id="k55-5"><use href="#PR" x="291" y="2870"/></g><g id="k55-6"><use href="#PR" x="343" y="2870"/></g><g id="k55-7"><use href="#PR" x="395" y="2870"/></g><g id="k55-8"><use href="#PR" x="447" y="2870"/></g><g id="k55-9"><use href="#PR" x="499" y="2870"/></g>
<g id="k56-1"><use href="#PL" x="83" y="2922"/></g><g id="k56-2"><use href="#PL" x="135" y="2922"/></g><g id="k56-3"><use href="#PL" x="187" y="2922"/></g><g id="k56-4"><use href="#PL" x="239" y="2922"/></g><g id="k56-5"><use href="#PL" x="291" y="2922"/></g><g id="k56-6"><use href="#PL" x="343" y="2922"/></g><g id="k56-7"><use href="#PL" x="395" y="2922"/></g><g id="k56-8"><use href="#PL" x="447" y="2922"/></g><g id="k56-9"><use href="#PL" x="499" y="2922"/></g>
<g id="k57-1"><use href="#PR" x="83" y="2974"/></g><g id="k57-2"><use href="#PR" x="135" y="2974"/></g><g id="k57-3"><use href="#PR" x="187" y="2974"/></g><g id="k57-4"><use href="#PR" x="239" y="2974"/></g><g id="k57-5"><use href="#PR" x="291" y="2974"/></g><g id="k57-6"><use href="#PR" x="343" y="2974"/></g><g id="k57-7"><use href="#PR" x="395" y="2974"/></g><g id="k57-8"><use href="#PR" x="447" y="2974"/></g><g id="k57-9"><use href="#PR" x="499" y="2974"/></g>
<g id="k58-1"><use href="#PL" x="83" y="3026"/></g><g id="k58-2"><use href="#PL" x="135" y="3026"/></g><g id="k58-3"><use href="#PL" x="187" y="3026"/></g><g id="k58-4"><use href="#PL" x="239" y="3026"/></g><g id="k58-5"><use href="#PL" x="291" y="3026"/></g><g id="k58-6"><use href="#PL" x="343" y="3026"/></g><g id="k58-7"><use href="#VL" x="395" y="3026"/></g><g id="k58-8"><use href="#PL" x="447" y="3026"/></g><g id="k58-9"><use href="#PL" x="499" y="3026"/></g>
<g id="k59-1"><use href="#PR" x="83" y="3078"/></g><g id="k59-2"><use href="#PR" x="135" y="3078"/></g><g id="k59-3"><use href="#PR" x="187" y="3078"/></g><g id="k59-4"><use href="#PR" x="239" y="3078"/></g><g id="k59-5"><use href="#PR" x="291" y="3078"/></g><g id="k59-6"><use href="#VR" x="343" y="3078"/></g><g id="k59-7"><use href="#WR" x="395" y="3078"/></g><g id="k59-8"><use href="#VR" x="447" y="3078"/></g><g id="k59-9"><use href="#PR" x="499" y="3078"/></g>
<g id="k60-1"><use href="#PL" x="83" y="3130"/></g><g id="k60-2"><use href="#PL" x="135" y="3130"/></g><g id="k60-3"><use href="#PL" x="187" y="3130"/></g><g id="k60-4"><use href="#PL" x="239" y="3130"/></g><g id="k60-5"><use href="#PL" x="291" y="3130"/></g><g id="k60-6"><use href="#PL" x="343" y="3130"/></g><g id="k60-7"><use href="#VL" x="395" y="3130"/></g><g id="k60-8"><use href="#PL" x="447" y="3130"/></g><g id="k60-9"><use href="#PL" x="499" y="3130"/></g>
<g id="k61-1"><use href="#PR" x="83" y="3182"/></g><g id="k61-2"><use href="#PR" x="135" y="3182"/></g><g id="k61-3"><use href="#PR" x="187" y="3182"/></g><g id="k61-4"><use href="#PR" x="239" y="3182"/></g><g id="k61-5"><use href="#PR" x="291" y="3182"/></g><g id="k61-6"><use href="#PR" x="343" y="3182"/></g><g id="k61-7"><use href="#PR" x="395" y="3182"/></g><g id="k61-8"><use href="#PR" x="447" y="3182"/></g><g id="k61-9"><use href="#PR" x="499" y="3182"/></g>
<g id="k62-1"><use href="#PL" x="83" y="3234"/></g><g id="k62-2"><use href="#PL" x="135" y="3234"/></g><g id="k62-3"><use href="#PL" x="187" y="3234"/></g><g id="k62-4"><use href="#PL" x="239" y="3234"/></g><g id="k62-5"><use href="#PL" x="291" y="3234"/></g><g id="k62-6"><use href="#PL" x="343" y="3234"/></g><g id="k62-7"><use href="#PL" x="395" y="3234"/></g><g id="k62-8"><use href="#PL" x="447" y="3234"/></g><g id="k62-9"><use href="#PL" x="499" y="3234"/></g>
<g id="k63-1"><use href="#PR" x="83" y="3286"/></g><g id="k63-2"><use href="#PR" x="135" y="3286"/></g><g id="k63-3"><use href="#PR" x="187" y="3286"/></g><g id="k63-4"><use href="#VR" x="239" y="3286"/></g><g id="k63-5"><use href="#PR" x="291" y="3286"/></g><g id="k63-6"><use href="#PR" x="343" y="3286"/></g><g id="k63-7"><use href="#PR" x="395" y="3286"/></g><g id="k63-8"><use href="#PR" x="447" y="3286"/></g><g id="k63-9"><use href="#PR" x="499" y="3286"/></g>
<g id="k64-1"><use href="#PL" x="83" y="3338"/></g><g id="k64-2"><use href="#PL" x="135" y="3338"/></g><g id="k64-3"><use href="#VL" x="187" y="3338"/></g><g id="k64-4"><use href="#WL" x="239" y="3338"/></g><g id="k64-5"><use href="#VL" x="291" y="3338"/></g><g id="k64-6"><use href="#PL" x="343" y="3338"/></g><g id="k64-7"><use href="#PL" x="395" y="3338"/></g><g id="k64-8"><use href="#PL" x="447" y="3338"/></g><g id="k64-9"><use href="#PL" x="499" y="3338"/></g>
<g id="k65-1"><use href="#PR" x="83" y="3390"/></g><g id="k65-2"><use href="#PR" x="135" y="3390"/></g><g id="k65-3"><use href="#PR" x="187" y="3390"/></g><g id="k65-4"><use href="#VR" x="239" y="3390"/></g><g id="k65-5"><use href="#PR" x="291" y="3390"/></g><g id="k65-6"><use href="#PR" x="343" y="3390"/></g><g id="k65-7"><use href="#PR" x="395" y="3390"/></g><g id="k65-8"><use href="#PR" x="447" y="3390"/></g><g id="k65-9"><use href="#PR" x="499" y="3390"/></g>
<g id="k66-1"><use href="#PL" x="83" y="3442"/></g><g id="k66-2"><use href="#PL" x="135" y="3442"/></g><g id="k66-3"><use href="#PL" x="187" y="3442"/></g><g id="k66-4"><use href="#PL" x="239" y="3442"/></g><g id="k66-5"><use href="#PL" x="291" y="3442"/></g><g id="k66-6"><use href="#PL" x="343" y="3442"/></g><g id="k66-7"><use href="#PL" x="395" y="3442"/></g><g id="k66-8"><use href="#PL" x="447" y="3442"/></g><g id="k66-9"><use href="#PL" x="499" y="3442"/></g>
<g id="k67-1"><use href="#PR" x="83" y="3494"/></g><g id="k67-2"><use href="#PR" x="135" y="3494"/></g><g id="k67-3"><use href="#PR" x="187" y="3494"/></g><g id="k67-4"><use href="#PR" x="239" y="3494"/></g><g id="k67-5"><use href="#PR" x="291" y="3494"/></g><g id="k67-6"><use href="#PR" x="343" y="3494"/></g><g id="k67-7"><use href="#PR" x="395" y="3494"/></g><g id="k67-8"><use href="#PR" x="447" y="3494"/></g><g id="k67-9"><use href="#PR" x="499" y="3494"/></g>
<g id="k68-1"><use href="#PL" x="83" y="3546"/></g><g id="k68-2"><use href="#PL" x="135" y="3546"/></g><g id="k68-3"><use href="#PL" x="187" y="3546"/></g><g id="k68-4"><use href="#PL" x="239" y="3546"/></g><g id="k68-5"><use href="#PL" x="291" y="3546"/></g><g id="k68-6"><use href="#VL" x="343" y="3546"/></g><g id="k68-7"><use href="#PL" x="395" y="3546"/></g><g id="k68-8"><use href="#PL" x="447" y="3546"/></g><g id="k68-9"><use href="#PL" x="499" y="3546"/></g>
<g id="k69-1"><use href="#PR" x="83" y="3598"/></g><g id="k69-2"><use href="#PR" x="135" y="3598"/></g><g id="k69-3"><use href="#PR" x="187" y="3598"/></g><g id="k69-4"><use href="#PR" x="239" y="3598"/></g><g id="k69-5"><use href="#VR" x="291" y="3598"/></g><g id="k69-6"><use href="#WR" x="343" y="3598"/></g><g id="k69-7"><use href="#VR" x="395" y="3598"/></g><g id="k69-8"><use href="#PR" x="447" y="3598"/></g><g id="k69-9"><use href="#PR" x="499" y="3598"/></g>
<g id="k70-1"><use href="#PL" x="83" y="3650"/></g><g id="k70-2"><use href="#PL" x="135" y="3650"/></g><g id="k70-3"><use href="#PL" x="187" y="3650"/></g><g id="k70-4"><use href="#PL" x="239" y="3650"/></g><g id="k70-5"><use href="#PL" x="291" y="3650"/></g><g id="k70-6"><use href="#VL" x="343" y="3650"/></g><g id="k70-7"><use href="#PL" x="395" y="3650"/></g><g id="k70-8"><use href="#PL" x="447" y="3650"/></g><g id="k70-9"><use href="#PL" x="499" y="3650"/></g>
<g id="k71-1"><use href="#PR" x="83" y="3702"/></g><g id="k71-2"><use href="#PR" x="135" y="3702"/></g><g id="k71-3"><use href="#PR" x="187" y="3702"/></g><g id="k71-4"><use href="#PR" x="239" y="3702"/></g><g id="k71-5"><use href="#PR" x="291" y="3702"/></g><g id="k71-6"><use href="#PR" x="343" y="3702"/></g><g id="k71-7"><use href="#PR" x="395" y="3702"/></g><g id="k71-8"><use href="#PR" x="447" y="3702"/></g><g id="k71-9"><use href="#PR" x="499" y="3702"/></g>
<g id="k72-1"><use href="#PL" x="83" y="3754"/></g><g id="k72-2"><use href="#PL" x="135" y="3754"/></g><g id="k72-3"><use href="#PL" x="187" y="3754"/></g><g id="k72-4"><use href="#PL" x="239" y="3754"/></g><g id="k72-5"><use href="#PL" x="291" y="3754"/></g><g id="k72-6"><use href="#PL" x="343" y="3754"/></g><g id="k72-7"><use href="#PL" x="395" y="3754"/></g><g id="k72-8"><use href="#PL" x="447" y="3754"/></g><g id="k72-9"><use href="#PL" x="499" y="3754"/></g>
</g>
<g id="row-labels-left" class="n" text-anchor="end">
<text x="21.5" y="67">1</text><text x="21.5" y="119">2</text><text x="21.5" y="171">3</text><text x="21.5" y="223">4</text><text x="21.5" y="275">5</text><text x="21.5" y="327">6</text><text x="21.5" y="379">7</text><text x="21.5" y="431">8</text><text x="21.5" y="483">9</text><text x="21.5" y="535">10</text><text x="21.5" y="587">11</text><text x="21.5" y="639">12</text><text x="21.5" y="691">13</text><text x="21.5" y="743">14</text><text x="21.5" y="795">15</text><text x="21.5" y="847">16</text><text x="21.5" y="899">17</text><text x="21.5" y="951">18</text><text x="21.5" y="1003">19</text><text x="21.5" y="1055">20</text><text x="21.5" y="1107">21</text><text x="21.5" y="1159">22</text><text x="21.5" y="1211">23</text><text x="21.5" y="1263">24</text><text x="21.5" y="1315">25</text><text x="21.5" y="1367">26</text><text x="21.5" y="1419">27</text><text x="21.5" y="1471">28</text><text x="21.5" y="1523">29</text><text x="21.5" y="1575">30</text><text x="21.5" y="1627">31</text><text x="21.5" y="1679">32</text><text x="21.5" y="1731">33</text><text x="21.5" y="1783">34</text><text x="21.5" y="1835">35</text><text x="21.5" y="1887">36</text><text x="21.5" y="1939">37</text><text x="21.5" y="1991">38</text><text x="21.5" y="2043">39</text><text x="21.5" y="2095">40</text><text x="21.5" y="2147">41</text><text x="21.5" y="2199">42</text><text x="21.5" y="2251">43</text><text x="21.5" y="2303">44</text><text x="21.5" y="2355">45</text><text x="21.5" y="2407">46</text><text x="21.5" y="2459">47</text><text x="21.5" y="2511">48</text><text x="21.5" y="2563">49</text><text x="21.5" y="2615">50</text><text x="21.5" y="2667">51</text><text x="21.5" y="2719">52</text><text x="21.5" y="2771">53</text><text x="21.5" y="2823">54</text><text x="21.5" y="2875">55</text><text x="21.5" y="2927">56</text><text x="21.5" y="2979">57</text><text x="21.5" y="3031">58</text><text x="21.5" y="3083">59</text><text x="21.5" y="3135">60</text><text x="21.5" y="3187">61</text><text x="21.5" y="3239">62</text><text x="21.5" y="3291">63</text><text x="21.5" y="3343">64</text><text x="21.5" y="3395">65</text><text x="21.5" y="3447">66</text><text x="21.5" y="3499">67</text><text x="21.5" y="3551">68</text><text x="21.5" y="3603">69</text><text x="21.5" y="3655">70</text><text x="21.5" y="3707">71</text><text x="21.5" y="3759">72</text>
</g>
<g id="row-labels-right" class="n">
<text x="561" y="67">1</text><text x="561" y="119">2</text><text x="561" y="171">3</text><text x="561" y="223">4</text><text x="561" y="275">5</text><text x="561" y="327">6</text><text x="561" y="379">7</text><text x="561" y="431">8</text><text x="561" y="483">9</text><text x="561" y="535">10</text><text x="561" y="587">11</text><text x="561" y="639">12</text><text x="561" y="691">13</text><text x="561" y="743">14</text><text x="561" y="795">15</text><text x="561" y="847">16</text><text x="561" y="899">17</text><text x="561" y="951">18</text><text x="561" y="1003">19</text><text x="561" y="1055">20</text><text x="561" y="1107">21</text><text x="561" y="1159">22</text><text x="561" y="1211">23</text><text x="561" y="1263">24</text><text x="561" y="1315">25</text><text x="561" y="1367">26</text><text x="561" y="1419">27</text><text x="561" y="1471">28</text><text x="561" y="1523">29</text><text x="561" y="1575">30</text><text x="561" y="1627">31</text><text x="561" y="1679">32</text><text x="561" y="1731">33</text><text x="561" y="1783">34</text><text x="561" y="1835">35</text><text x="561" y="1887">36</text><text x="561" y="1939">37</text><text x="561" y="1991">38</text><text x="561" y="2043">39</text><text x="561" y="2095">40</text><text x="561" y="2147">41</text><text x="561" y="2199">42</text><text x="561" y="2251">43</text><text x="561" y="2303">44</text><text x="561" y="2355">45</text><text x="561" y="2407">46</text><text x="561" y="2459">47</text><text x="561" y="2511">48</text><text x="561" y="2563">49</text><text x="561" y="2615">50</text><text x="561" y="2667">51</text><text x="561" y="2719">52</text><text x="561" y="2771">53</text><text x="561" y="2823">54</text><text x="561" y="2875">55</text><text x="561" y="2927">56</text><text x="561" y="2979">57</text><text x="561" y="3031">58</text><text x="561" y="3083">59</text><text x="561" y="3135">60</text><text x="561" y="3187">61</text><text x="561" y="3239">62</text><text x="561" y="3291">63</text><text x="561" y="3343">64</text><text x="561" y="3395">65</text><text x="561" y="3447">66</text><text x="561" y="3499">67</text><text x="561" y="3551">68</text><text x="561" y="3603">69</text><text x="561" y="3655">70</text><text x="561" y="3707">71</text><text x="561" y="3759">72</text>
</g>
<text id="watermark" class="wm" x="292" y="1913" text-anchor="middle">BRACELETBOOK.COM</text>
</svg>
